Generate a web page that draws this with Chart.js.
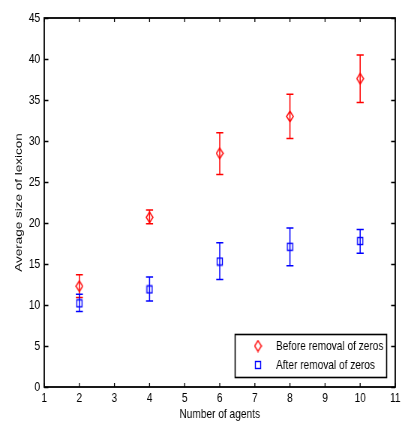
<!DOCTYPE html>
<html>
<head>
<meta charset="utf-8">
<script src="https://cdn.jsdelivr.net/npm/chart.js@4"></script>
<style>
  html,body{margin:0;padding:0;background:#fff;overflow:hidden;}
  /* the reference figure is a matlab plot squeezed horizontally to 3/4 */
  #wrap{width:543px;height:424px;transform:scaleX(0.75);transform-origin:0 0;}
</style>
</head>
<body>
<div id="wrap"><canvas id="c" width="543" height="424"></canvas></div>
<script>
// number of agents
const agents = [2, 4, 6, 8, 10];
// before removal of zeros: mean and error bar ends
const beforeMean = [12.3, 20.7, 28.5, 33.0, 37.6];
const beforeLow  = [10.9, 19.9, 25.9, 30.3, 34.7];
const beforeHigh = [13.7, 21.6, 31.0, 35.7, 40.5];
// after removal of zeros
const afterMean = [10.2, 11.9, 15.3, 17.1, 17.8];
const afterLow  = [9.2, 10.5, 13.1, 14.8, 16.3];
const afterHigh = [11.3, 13.4, 17.6, 19.4, 19.2];
const seriesNames = ['Before removal of zeros', 'After removal of zeros'];

const FONT = '"Liberation Sans", Arial, sans-serif';
const FSIZE = 13.5;
const RED = '#ff0000', BLUE = '#0000ff';

function diamond(color) {
  const cv = document.createElement('canvas');
  cv.width = 11; cv.height = 13;
  const g = cv.getContext('2d');
  g.strokeStyle = color; g.lineWidth = 1.4;
  g.beginPath();
  g.moveTo(5.5, 1.2); g.lineTo(10, 6.5); g.lineTo(5.5, 11.8); g.lineTo(1, 6.5); g.closePath();
  g.stroke();
  return cv;
}
function square(color) {
  const cv = document.createElement('canvas');
  cv.width = 10; cv.height = 10;
  const g = cv.getContext('2d');
  g.strokeStyle = color; g.lineWidth = 1.4;
  g.strokeRect(1.5, 1.5, 7, 7);
  return cv;
}
const diaImg = diamond(RED), sqImg = square(BLUE);

const pts = (m) => agents.map((a, i) => ({ x: a, y: m[i] }));

const matlabAxes = {
  id: 'matlabAxes',
  beforeDatasetsDraw(chart) {
    const { ctx, scales: { x, y } } = chart;
    const bars = [[beforeLow, beforeHigh, RED], [afterLow, afterHigh, BLUE]];
    ctx.save();
    ctx.lineWidth = 1.5;
    bars.forEach(([lo, hi, col]) => {
      ctx.strokeStyle = col;
      agents.forEach((a, i) => {
        const px = x.getPixelForValue(a);
        const y1 = y.getPixelForValue(lo[i]), y2 = y.getPixelForValue(hi[i]);
        ctx.beginPath();
        ctx.moveTo(px, y1); ctx.lineTo(px, y2);
        ctx.moveTo(px - 4.7, y1); ctx.lineTo(px + 4.7, y1);
        ctx.moveTo(px - 4.7, y2); ctx.lineTo(px + 4.7, y2);
        ctx.stroke();
      });
    });
    ctx.restore();
  },
  afterDraw(chart) {
    const { ctx, chartArea: a, scales: { x, y } } = chart;
    ctx.save();
    ctx.strokeStyle = '#000';
    ctx.lineWidth = 1.3;
    // inward ticks on all four sides
    ctx.beginPath();
    x.ticks.forEach(t => {
      const px = x.getPixelForValue(t.value);
      ctx.moveTo(px, a.bottom); ctx.lineTo(px, a.bottom - 4);
      ctx.moveTo(px, a.top); ctx.lineTo(px, a.top + 4);
    });
    y.ticks.forEach(t => {
      const py = Math.round(y.getPixelForValue(t.value)) + 0.5;
      ctx.moveTo(a.left, py); ctx.lineTo(a.left + 5.5, py);
      ctx.moveTo(a.right, py); ctx.lineTo(a.right - 5.5, py);
    });
    ctx.stroke();
    ctx.lineWidth = 1.8;
    ctx.strokeRect(a.left, a.top, a.right - a.left, a.bottom - a.top);

    // legend box in the lower right corner
    const lx = 313.5, ly = 334, lw = 202, lh = 43;
    ctx.fillStyle = '#fff';
    ctx.fillRect(lx, ly, lw, lh);
    ctx.lineWidth = 1.6;
    ctx.strokeRect(lx, ly + 0.5, lw, lh);
    ctx.drawImage(diaImg, 344 - 5.5, 346 - 6.5);
    ctx.drawImage(sqImg, 344 - 5, 365 - 5);
    ctx.fillStyle = '#000';
    ctx.font = FSIZE + 'px ' + FONT;
    ctx.textBaseline = 'middle';
    ctx.fillText(seriesNames[0], 368, 346.5);
    ctx.fillText(seriesNames[1], 368, 365.5);
    ctx.restore();
  }
};

new Chart(document.getElementById('c'), {
  type: 'scatter',
  data: {
    datasets: [
      { label: seriesNames[0], data: pts(beforeMean), pointStyle: diaImg, borderColor: RED, backgroundColor: RED },
      { label: seriesNames[1], data: pts(afterMean), pointStyle: sqImg, borderColor: BLUE, backgroundColor: BLUE }
    ]
  },
  options: {
    responsive: false,
    animation: false,
    devicePixelRatio: 1,
    layout: { padding: { left: 0, top: 18, right: 16, bottom: 0 } },
    plugins: { legend: { display: false }, tooltip: { enabled: false } },
    scales: {
      x: {
        type: 'linear', min: 1, max: 11,
        ticks: { stepSize: 1, color: '#000', padding: 3, font: { family: FONT, size: FSIZE } },
        grid: { display: false, drawTicks: false },
        border: { display: false },
        title: { display: true, text: 'Number of agents', color: '#000', font: { family: FONT, size: FSIZE }, padding: { top: 0, bottom: 2 } },
        afterFit: (s) => { s.height = 37; }
      },
      y: {
        type: 'linear', min: 0, max: 45,
        ticks: { stepSize: 5, color: '#000', padding: 5.5, font: { family: FONT, size: FSIZE } },
        grid: { display: false, drawTicks: false },
        border: { display: false },
        title: { display: true, text: 'Average size of lexicon', color: '#000', font: { family: FONT, size: FSIZE }, padding: { top: 17, bottom: 0 } },
        afterFit: (s) => { s.width = 59; }
      }
    }
  },
  plugins: [matlabAxes]
});
</script>
</body>
</html>
